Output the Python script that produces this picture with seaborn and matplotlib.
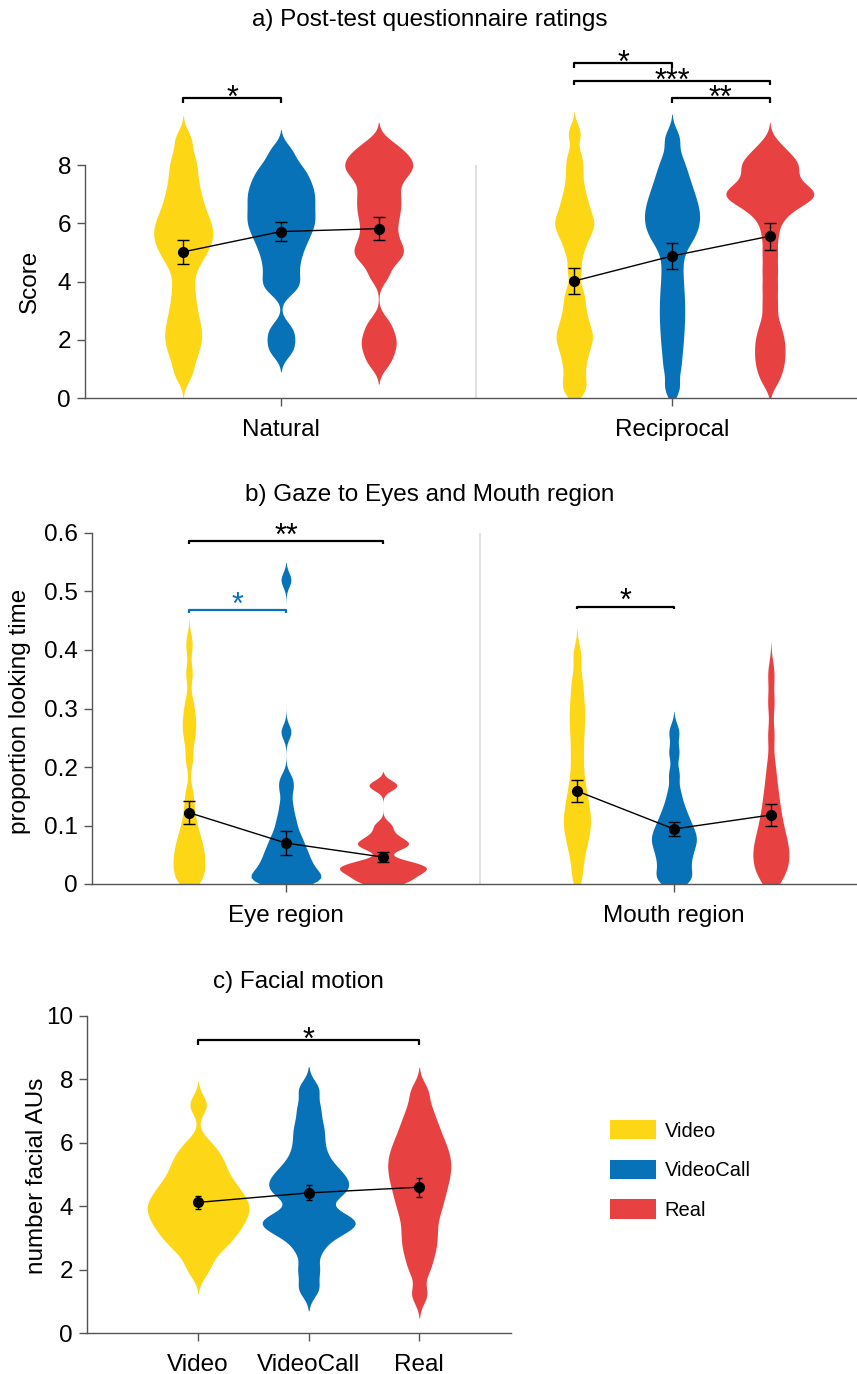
import numpy as np
import pandas as pd
import matplotlib
matplotlib.use("Agg")
import matplotlib.pyplot as plt
from matplotlib.patches import Patch
import seaborn as sns

sns.set_style("ticks")
plt.rcParams["font.family"] = ["Liberation Sans", "DejaVu Sans"]
plt.rcParams["text.color"] = "black"
plt.rcParams["axes.labelcolor"] = "black"

# ---------------- data ----------------
conditions = ["Video", "VideoCall", "Real"]
palette = ["#FDD615", "#0872B9", "#E84142"]

# a) questionnaire ratings
rating_categories = ["Natural", "Reciprocal"]
natural_video = [0.82, 1.34, 1.71, 2.01, 2.29, 2.60, 2.95, 3.36, 3.83, 4.34, 4.73, 4.96,
                 5.19, 5.39, 5.56, 5.74, 5.93, 6.12, 6.33, 6.58, 6.86, 7.16, 7.52, 7.90,
                 8.30, 8.90]
natural_videocall = [1.60, 2.00, 2.40, 3.70, 3.97, 4.27, 4.59, 4.88, 5.14, 5.37, 5.57,
                     5.76, 5.93, 6.09, 6.25, 6.42, 6.59, 6.76, 6.92, 7.09, 7.25, 7.44,
                     7.63, 7.84, 8.10, 8.52]
natural_real = [1.20, 1.60, 1.90, 2.20, 2.60, 4.20, 4.70, 4.90, 5.10, 5.30, 5.60, 5.90,
                6.20, 6.45, 6.70, 6.95, 7.20, 7.50, 7.70, 7.85, 8.00, 8.15, 8.30, 8.50,
                8.75]
reciprocal_video = [0.20, 0.50, 0.90, 1.30, 1.60, 1.90, 2.10, 2.30, 2.60, 2.90, 3.30,
                    3.70, 4.40, 5.00, 5.40, 5.70, 5.90, 6.10, 6.30, 6.60, 6.90, 7.30,
                    7.80, 8.30, 9.10]
reciprocal_videocall = [0.35, 1.06, 1.62, 2.11, 2.56, 2.99, 3.42, 3.87, 4.36, 4.87,
                        5.30, 5.53, 5.76, 5.96, 6.15, 6.34, 6.54, 6.74, 6.97, 7.21,
                        7.50, 7.82, 8.24, 8.93]
reciprocal_real = [0.60, 1.00, 1.30, 1.60, 1.90, 2.20, 2.60, 3.20, 3.80, 4.40, 5.00,
                   5.60, 6.10, 6.40, 6.60, 6.75, 6.85, 6.95, 7.00, 7.05, 7.15, 7.25,
                   7.40, 7.60, 7.80, 7.95, 8.05, 8.20, 8.40, 8.70]
natural_means = [5.02, 5.72, 5.82]
natural_sems = [0.40, 0.33, 0.39]
reciprocal_means = [4.02, 4.88, 5.56]
reciprocal_sems = [0.46, 0.44, 0.47]

# b) gaze proportions
gaze_categories = ["Eye region", "Mouth region"]
eye_video = [0.003, 0.008, 0.016, 0.025, 0.034, 0.042, 0.050, 0.058, 0.068, 0.078,
             0.089, 0.106, 0.127, 0.155, 0.213, 0.247, 0.268, 0.285, 0.310, 0.360,
             0.410]
eye_videocall = [0.0, 0.004, 0.006, 0.009, 0.011, 0.015, 0.020, 0.026, 0.031, 0.036,
                 0.042, 0.049, 0.055, 0.062, 0.070, 0.079, 0.088, 0.102, 0.116, 0.136,
                 0.161, 0.180, 0.260, 0.520]
eye_real = [0.0, 0.005, 0.010, 0.015, 0.020, 0.023, 0.026, 0.029, 0.032, 0.035, 0.040,
            0.060, 0.066, 0.070, 0.075, 0.085, 0.100, 0.165, 0.172]
mouth_video = [0.010, 0.038, 0.060, 0.075, 0.089, 0.100, 0.111, 0.123, 0.135, 0.150,
               0.166, 0.187, 0.212, 0.237, 0.261, 0.282, 0.302, 0.325, 0.351, 0.392]
mouth_videocall = [0.003, 0.008, 0.015, 0.026, 0.037, 0.046, 0.055, 0.064, 0.071, 0.078,
                   0.084, 0.092, 0.101, 0.110, 0.122, 0.136, 0.157, 0.188, 0.225, 0.260]
mouth_real = [0.005, 0.014, 0.023, 0.032, 0.041, 0.048, 0.056, 0.064, 0.073, 0.082,
              0.093, 0.105, 0.119, 0.135, 0.153, 0.175, 0.205, 0.255, 0.310, 0.360]
eye_means = [0.122, 0.070, 0.046]
eye_sems = [0.020, 0.020, 0.009]
mouth_means = [0.159, 0.094, 0.118]
mouth_sems = [0.018, 0.012, 0.018]

# c) facial motion
facial_video = [1.99, 2.45, 2.74, 2.91, 3.08, 3.24, 3.38, 3.51, 3.63, 3.76, 3.88, 3.99,
                4.10, 4.21, 4.35, 4.49, 4.63, 4.78, 4.98, 5.19, 5.41, 5.64, 5.97, 7.20]
facial_videocall = [1.40, 2.00, 2.60, 3.00, 3.20, 3.35, 3.45, 3.55, 3.65, 3.80, 4.25,
                    4.40, 4.55, 4.70, 4.85, 5.00, 5.20, 5.45, 5.80, 6.20, 6.60, 7.10,
                    7.70]
facial_real = [1.22, 1.97, 2.40, 2.73, 3.03, 3.33, 3.64, 3.90, 4.13, 4.35, 4.55, 4.75,
               4.92, 5.10, 5.27, 5.44, 5.61, 5.79, 5.99, 6.20, 6.46, 6.74, 7.11, 7.64]
facial_means = [4.12, 4.42, 4.60]
facial_sems = [0.20, 0.24, 0.30]

# significance annotations: (category index, hue i, hue j, height, label, color)
sig_a = [(0, 0, 1, 10.3, "*", "black"),
         (1, 0, 1, 11.5, "*", "black"),
         (1, 0, 2, 10.9, "***", "black"),
         (1, 1, 2, 10.3, "**", "black")]
sig_b = [(0, 0, 2, 0.586, "**", "black"),
         (0, 0, 1, 0.468, "*", "#0872B9"),
         (1, 0, 1, 0.474, "*", "black")]
sig_c = [(0, 2, 9.24, "*", "black")]

# ---------------- styling constants ----------------
W, H = 857, 1374
SPINE = "#555555"
FS = 17.5
OFFSETS = np.array([-0.25, 0.0, 0.25])
# max violin widths (data units) and kernel bandwidths per violin
A_WIDTH = [[0.151, 0.174, 0.174], [0.100, 0.141, 0.225]]
A_BW = [[0.32, 0.28, 0.29], [0.30, 0.33, 0.31]]
B_WIDTH = [[0.082, 0.180, 0.224], [0.070, 0.116, 0.093]]
B_BW = [[0.017, 0.012, 0.008], [0.018, 0.014, 0.021]]
C_WIDTH = [0.92, 0.84, 0.57]
C_BW = [0.30, 0.28, 0.30]

fig = plt.figure(figsize=(W / 100, H / 100), dpi=100)


def axes_px(left, top, right, bottom):
    return fig.add_axes([left / W, 1 - bottom / H, (right - left) / W, (bottom - top) / H])


ax_a = axes_px(85, 40, 857, 398)
ax_b = axes_px(92, 520, 857, 884)
ax_c = axes_px(87, 1000, 511, 1333)


def violin(ax, values, pos, color, width, bw):
    df = pd.DataFrame({"pos": [pos] * len(values), "value": values})
    sns.violinplot(data=df, x="pos", y="value", native_scale=True, orient="x",
                   color=color, saturation=1, width=width, density_norm="width",
                   bw_method=bw / np.std(values, ddof=1), cut=2.5, inner=None,
                   linewidth=0, ax=ax)


def style_axes(ax, ytop):
    for s in ["top", "right"]:
        ax.spines[s].set_visible(False)
    for s in ["left", "bottom"]:
        ax.spines[s].set_color(SPINE)
        ax.spines[s].set_linewidth(1.0)
    ax.spines["left"].set_bounds(0, ytop)
    ax.tick_params(axis="both", direction="out", length=6, width=1.0, color=SPINE,
                   labelsize=FS, labelcolor="black")
    ax.tick_params(axis="y", pad=4)
    ax.tick_params(axis="x", pad=9)
    ax.set_xlabel("")


def bracket(ax, x1, x2, y, tip, label, color, fs, dy):
    ax.plot([x1, x1, x2, x2], [y - tip, y, y, y - tip], color=color, lw=1.6,
            clip_on=False, solid_capstyle="butt")
    ax.text((x1 + x2) / 2, y + dy, label, ha="center", va="baseline", fontsize=fs,
            color=color, clip_on=False)


# ---- panel a ----
a_groups = [[natural_video, natural_videocall, natural_real],
            [reciprocal_video, reciprocal_videocall, reciprocal_real]]
for ci, groups in enumerate(a_groups):
    for hi, vals in enumerate(groups):
        violin(ax_a, vals, ci + OFFSETS[hi], palette[hi], A_WIDTH[ci][hi], A_BW[ci][hi])
for ci, (m, s) in enumerate([(natural_means, natural_sems),
                             (reciprocal_means, reciprocal_sems)]):
    ax_a.errorbar(ci + OFFSETS, m, yerr=s, color="black", lw=1, marker="o", ms=7,
                  capsize=4.5, capthick=1, elinewidth=1, zorder=5)
ax_a.vlines(0.5, 0, 8, color="#dddddd", lw=1.3)
ax_a.set_ylim(0, 358 / 29.1)
ax_a.set_xlim(-0.501, 1.473)
ax_a.set_xticks([0, 1])
ax_a.set_xticklabels(rating_categories)
ax_a.set_yticks([0, 2, 4, 6, 8])
style_axes(ax_a, 8)
ax_a.set_ylabel("Score", fontsize=FS, va="center")
ax_a.yaxis.set_label_coords(-55 / 772, 117 / 358)
for ci, i, j, y, lab, col in sig_a:
    bracket(ax_a, ci + OFFSETS[i], ci + OFFSETS[j], y, 0.15, lab, col, 22, -0.3)

# ---- panel b ----
b_groups = [[eye_video, eye_videocall, eye_real],
            [mouth_video, mouth_videocall, mouth_real]]
for ci, groups in enumerate(b_groups):
    for hi, vals in enumerate(groups):
        violin(ax_b, vals, ci + OFFSETS[hi], palette[hi], B_WIDTH[ci][hi], B_BW[ci][hi])
for ci, (m, s) in enumerate([(eye_means, eye_sems), (mouth_means, mouth_sems)]):
    ax_b.errorbar(ci + OFFSETS, m, yerr=s, color="black", lw=1, marker="o", ms=7,
                  capsize=4.5, capthick=1, elinewidth=1, zorder=5)
ax_b.vlines(0.5, 0, 0.6, color="#dddddd", lw=1.3)
ax_b.set_ylim(0, 364 / 585)
ax_b.set_xlim(-0.5, 1.472)
ax_b.set_xticks([0, 1])
ax_b.set_xticklabels(gaze_categories)
ax_b.set_yticks([0, 0.1, 0.2, 0.3, 0.4, 0.5, 0.6])
ax_b.set_yticklabels(["0", "0.1", "0.2", "0.3", "0.4", "0.5", "0.6"])
style_axes(ax_b, 0.6)
ax_b.set_ylabel("proportion looking time", fontsize=FS, va="center")
ax_b.yaxis.set_label_coords(-72 / 765, 173 / 364)
for ci, i, j, y, lab, col in sig_b:
    bracket(ax_b, ci + OFFSETS[i], ci + OFFSETS[j], y, 0.004, lab, col, 22, -0.006)

# ---- panel c ----
c_groups = [facial_video, facial_videocall, facial_real]
for hi, vals in enumerate(c_groups):
    violin(ax_c, vals, hi, palette[hi], C_WIDTH[hi], C_BW[hi])
ax_c.errorbar(np.arange(3), facial_means, yerr=facial_sems, color="black", lw=1,
              marker="o", ms=7, capsize=2.5, capthick=1, elinewidth=1, zorder=5)
ax_c.set_ylim(0, 333 / 31.7)
ax_c.set_xlim(-1.005, 2.83)
ax_c.set_xticks([0, 1, 2])
ax_c.set_xticklabels(conditions)
ax_c.set_yticks([0, 2, 4, 6, 8, 10])
style_axes(ax_c, 10)
ax_c.set_ylabel("number facial AUs", fontsize=FS, va="center")
ax_c.yaxis.set_label_coords(-50 / 424, 157 / 333)
for i, j, y, lab, col in sig_c:
    bracket(ax_c, i, j, y, 0.15, lab, col, 22, -0.27)

handles = [Patch(facecolor=c, edgecolor="none") for c in palette]
fig.legend(handles, conditions, loc="upper left",
           bbox_to_anchor=(592 / W, 1 - 1102 / H), frameon=False, fontsize=14.5,
           handlelength=2.3, handleheight=1.1, labelspacing=0.95, handletextpad=0.4)

# titles
fig.text(430 / W, 1 - 20 / H, "a) Post-test questionnaire ratings", ha="center",
         va="center", fontsize=FS)
fig.text(430 / W, 1 - 495 / H, "b) Gaze to Eyes and Mouth region", ha="center",
         va="center", fontsize=FS)
fig.text(298 / W, 1 - 982 / H, "c) Facial motion", ha="center", va="center", fontsize=FS)

fig.savefig("out.png", dpi=100)
